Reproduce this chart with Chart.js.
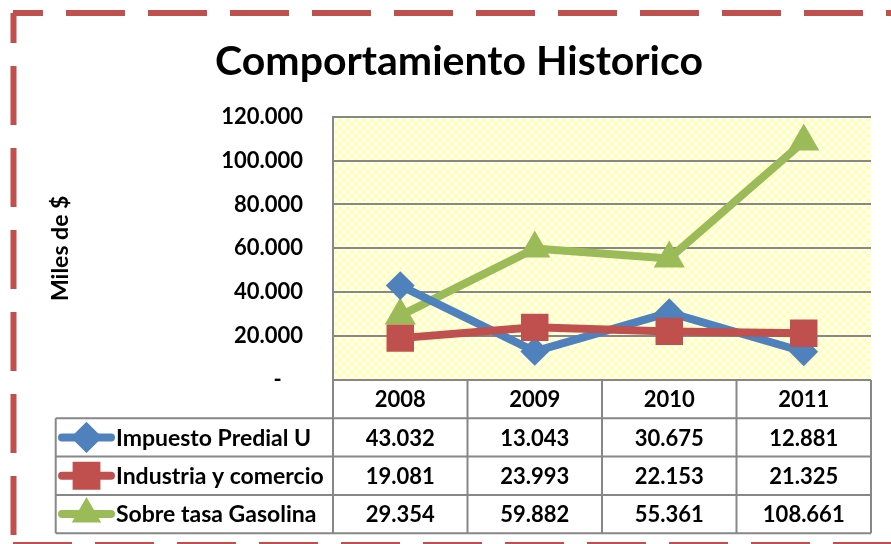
<!DOCTYPE html>
<html>
<head>
<meta charset="utf-8">
<title>Comportamiento Historico</title>
<script src="https://cdn.jsdelivr.net/npm/chart.js@4.4.1/dist/chart.umd.min.js"></script>
<style>
    html, body { margin: 0; padding: 0; background: #fff; }
    #chart { display: block; }
</style>
</head>
<body>
<canvas id="chart" width="891" height="544"></canvas>
<script>
// Datos (miles de $)
const years = ['2008', '2009', '2010', '2011'];
const predial = [43032, 13043, 30675, 12881];
const industria = [19081, 23993, 22153, 21325];
const gasolina = [29354, 59882, 55361, 108661];
const seriesNames = ['Impuesto Predial U', 'Industria y comercio', 'Sobre tasa Gasolina'];

const FONT = 'Lato, "Open Sans", sans-serif';
const GRID = '#878787';

// 43032 -> "43.032"
function miles(v) {
    return String(v).replace(/\B(?=(\d{3})+(?!\d))/g, '.');
}

// Trama amarilla cuadriculada del area de trazado
function makePattern(ctx) {
    const c = document.createElement('canvas');
    c.width = 8; c.height = 8;
    const g = c.getContext('2d');
    g.fillStyle = '#ffffad';
    g.fillRect(0, 0, 8, 8);
    g.strokeStyle = 'rgba(255,255,255,0.9)';
    g.lineWidth = 1.8;
    g.beginPath();
    g.moveTo(-1, -1); g.lineTo(9, 9);
    g.moveTo(-1, 9); g.lineTo(9, -1);
    g.stroke();
    return ctx.createPattern(c, 'repeat');
}

const plotBackground = {
    id: 'plotBackground',
    beforeDraw(chart) {
        const { ctx, chartArea: a } = chart;
        ctx.save();
        ctx.fillStyle = '#fff';
        ctx.fillRect(0, 0, chart.width, chart.height);
        ctx.fillStyle = makePattern(ctx);
        ctx.fillRect(a.left, a.top, a.right - a.left, a.bottom - a.top);
        ctx.restore();
    }
};

// Tabla de datos bajo el eje X, alineada con las categorias
const dataTable = {
    id: 'dataTable',
    afterDraw(chart) {
        const { ctx, chartArea: a } = chart;
        const x = chart.scales.x;
        const colW = (a.right - a.left) / years.length;
        const rowH = 38.3;
        const top = a.bottom;
        const bottom = top + rowH * 4;
        const keyLeft = 55.7;

        ctx.save();
        ctx.strokeStyle = GRID;
        ctx.lineWidth = 2;
        ctx.beginPath();
        // lineas verticales
        for (let i = 0; i <= years.length; i++) {
            const cx = a.left + colW * i;
            ctx.moveTo(cx, top);
            ctx.lineTo(cx, bottom);
        }
        ctx.moveTo(keyLeft, top + rowH);
        ctx.lineTo(keyLeft, bottom);
        // lineas horizontales
        for (let r = 1; r <= 4; r++) {
            const y = top + rowH * r;
            ctx.moveTo(keyLeft, y);
            ctx.lineTo(a.right, y);
        }
        ctx.stroke();

        const valueFont = `bold 22px ${FONT}`;
        const nameFont = `bold 23px ${FONT}`;
        ctx.fillStyle = '#000';
        ctx.font = valueFont;
        ctx.textAlign = 'center';
        ctx.textBaseline = 'middle';
        years.forEach((yr, i) => ctx.fillText(yr, x.getPixelForValue(i), top + rowH / 2 + 1));

        chart.data.datasets.forEach((ds, r) => {
            const cy = top + rowH * (r + 1.5);
            ctx.font = valueFont;
            ctx.textAlign = 'center';
            ds.data.forEach((v, i) => {
                ctx.fillText(miles(v), x.getPixelForValue(i), cy + 1);
            });

            // clave de la serie
            ctx.strokeStyle = ds.borderColor;
            ctx.lineWidth = 8;
            ctx.lineCap = 'round';
            ctx.beginPath();
            ctx.moveTo(62, cy);
            ctx.lineTo(111, cy);
            ctx.stroke();
            ctx.fillStyle = ds.pointBackgroundColor;
            ctx.strokeStyle = ds.borderColor;
            Chart.helpers.drawPoint(ctx, {
                pointStyle: ds.pointStyle,
                radius: ds.keyRadius,
                rotation: 0,
                borderWidth: 1
            }, 86.5, cy);

            ctx.fillStyle = '#000';
            ctx.font = nameFont;
            ctx.textAlign = 'left';
            ctx.fillText(seriesNames[r], 116, cy + 1);
        });
        ctx.restore();
    }
};

// Borde discontinuo rojo alrededor del grafico
const dashedFrame = {
    id: 'dashedFrame',
    afterDraw(chart) {
        const { ctx } = chart;
        ctx.save();
        ctx.strokeStyle = '#c0504d';
        ctx.lineWidth = 6;
        ctx.setLineDash([59, 23]);
        ctx.lineDashOffset = 29;
        ctx.beginPath();
        ctx.moveTo(13, 13);
        ctx.lineTo(900, 13);
        ctx.stroke();
        ctx.beginPath();
        ctx.moveTo(13.5, 13);
        ctx.lineTo(13.5, 560);
        ctx.stroke();
        ctx.lineDashOffset = 0;
        ctx.beginPath();
        ctx.moveTo(13, 545);
        ctx.lineTo(900, 545);
        ctx.stroke();
        ctx.restore();
    }
};

const ctx = document.getElementById('chart').getContext('2d');
const chart = new Chart(ctx, {
    type: 'line',
    data: {
        labels: years,
        datasets: [
            {
                label: seriesNames[0],
                data: predial,
                borderColor: '#4f81bd',
                pointBackgroundColor: '#4f81bd',
                pointBorderColor: '#4f81bd',
                pointStyle: 'rectRot',
                pointRadius: 13,
                keyRadius: 10,
                order: 1
            },
            {
                label: seriesNames[1],
                data: industria,
                borderColor: '#c0504d',
                pointBackgroundColor: '#c0504d',
                pointBorderColor: '#c0504d',
                pointStyle: 'rect',
                pointRadius: 18,
                keyRadius: 14,
                order: 0
            },
            {
                label: seriesNames[2],
                data: gasolina,
                borderColor: '#9bbb59',
                pointBackgroundColor: '#9bbb59',
                pointBorderColor: '#9bbb59',
                pointStyle: 'triangle',
                pointRadius: 16,
                keyRadius: 9,
                order: 2
            }
        ]
    },
    options: {
        responsive: false,
        animation: false,
        devicePixelRatio: 1,
        layout: {
            padding: { top: 0, left: 40, right: 13, bottom: 164 }
        },
        elements: {
            line: { borderWidth: 8, tension: 0, borderJoinStyle: 'round', borderCapStyle: 'round' },
            point: { borderWidth: 2, hoverRadius: 13 }
        },
        plugins: {
            legend: { display: false },
            tooltip: { enabled: false },
            title: {
                display: true,
                text: 'Comportamiento Historico',
                color: '#000',
                font: { family: FONT, size: 41, weight: 'bold', lineHeight: 1.2 },
                padding: { top: 37, bottom: 30.5 }
            }
        },
        scales: {
            x: {
                display: false,
                offset: true
            },
            y: {
                min: 0,
                max: 120000,
                afterFit(scale) { scale.width = 293; },
                ticks: {
                    stepSize: 20000,
                    padding: 30,
                    color: '#000',
                    font: { family: FONT, size: 22, weight: 'bold' },
                    callback: v => v === 0 ? '-    ' : miles(v)
                },
                grid: {
                    color: GRID,
                    lineWidth: 2,
                    drawTicks: false
                },
                border: { display: true, color: GRID, width: 2 },
                title: {
                    display: true,
                    text: 'Miles de $',
                    color: '#000',
                    font: { family: FONT, size: 23, weight: 'bold' },
                    padding: { top: 7 }
                }
            }
        }
    },
    plugins: [plotBackground, dataTable, dashedFrame]
});
</script>
</body>
</html>
